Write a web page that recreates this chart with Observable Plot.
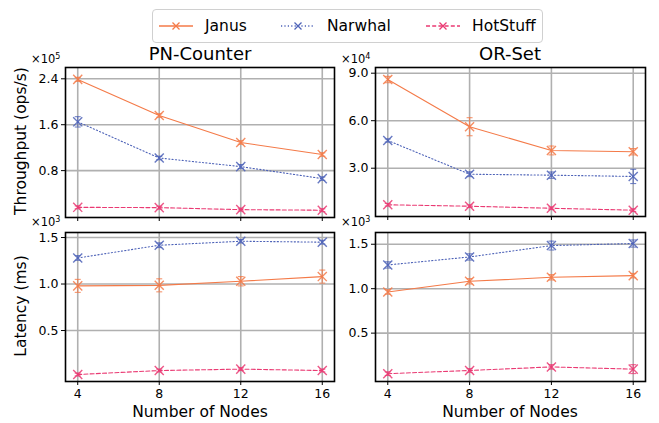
<!DOCTYPE html>
<html>
<head>
<meta charset="utf-8">
<script src="https://cdn.jsdelivr.net/npm/d3@7"></script>
<script src="https://cdn.jsdelivr.net/npm/@observablehq/plot@0.6"></script>
<style>
  html, body { margin: 0; padding: 0; background: #fff; }
  #root { position: relative; width: 659px; height: 423px; font-family: "DejaVu Sans", sans-serif; color: #000; overflow: hidden; }
  .abs { position: absolute; }
  .title { font-size: 18px; transform: translate(-50%, -50%); white-space: nowrap; line-height: 1; }
  .ylab { font-size: 15.5px; white-space: nowrap; transform: translate(-50%, -50%) rotate(-90deg); line-height: 1; }
  .xlab { font-size: 15.5px; white-space: nowrap; transform: translate(-50%, -50%); line-height: 1; }
  .mult { font-size: 11.5px; white-space: nowrap; transform: translate(0, -50%); line-height: 10px; }
  .mult sup { font-size: 8px; vertical-align: 4px; line-height: 0; }
  #legend { left: 152px; top: 9px; width: 391px; height: 34px; border: 1px solid #d0d0d0; border-radius: 4px; box-sizing: border-box; display: flex; align-items: center; font-size: 15.5px; }
  .item { display: flex; align-items: center; position: absolute; top: 0; height: 32px; }
  .item svg { margin-right: 12px; }
</style>
</head>
<body>
<div id="root"></div>
<script>
// ---------- data ----------
const nodes = [4, 8, 12, 16];
const seriesNames = ["Janus", "Narwhal", "HotStuff"];
const seriesColors = ["#f47a48", "#4e63b8", "#ea3a73"];
const seriesDash = [null, "1.2,2.2", "4,2.2"];

// Throughput (ops/s), PN-Counter
const pnTputJanus = [239000, 176000, 129000, 108000];
const pnTputNarwhal = [165000, 102000, 87000, 66000];
const pnTputHotStuff = [16000, 15500, 12000, 11000];
const pnTputJanusErr = [3500, 3000, 3000, 3000];
const pnTputNarwhalErr = [9000, 3000, 3500, 3000];
const pnTputHotStuffErr = [2500, 2500, 2500, 2500];

// Throughput (ops/s), OR-Set
const orTputJanus = [86000, 56200, 41200, 40400];
const orTputNarwhal = [47500, 26200, 25600, 24800];
const orTputHotStuff = [6900, 6000, 4700, 3500];
const orTputJanusErr = [2000, 5700, 2800, 2000];
const orTputNarwhalErr = [1000, 1500, 2000, 4500];
const orTputHotStuffErr = [800, 800, 800, 800];

// Latency (ms), PN-Counter
const pnLatJanus = [980, 986, 1030, 1080];
const pnLatNarwhal = [1280, 1417, 1460, 1450];
const pnLatHotStuff = [27, 70, 85, 70];
const pnLatJanusErr = [70, 70, 50, 70];
const pnLatNarwhalErr = [25, 25, 18, 20];
const pnLatHotStuffErr = [15, 15, 15, 15];

// Latency (ms), OR-Set
const orLatJanus = [963, 1083, 1128, 1147];
const orLatNarwhal = [1267, 1357, 1485, 1508];
const orLatHotStuff = [44, 80, 120, 95];
const orLatJanusErr = [25, 30, 30, 25];
const orLatNarwhalErr = [35, 35, 50, 40];
const orLatHotStuffErr = [20, 20, 25, 50];

// tick labels
const xTicks = [4, 8, 12, 16];
const pnTputTicks = [80000, 160000, 240000];
const orTputTicks = [30000, 60000, 90000];
const latTicks = [500, 1000, 1500];

// ---------- helpers ----------
const capSymbol = {
  draw(context, size) {
    const w = Math.sqrt(size / Math.PI);
    context.moveTo(-w, 0);
    context.lineTo(w, 0);
  }
};

function rowsFor(vals, errs) {
  return seriesNames.map((name, i) =>
    nodes.map((n, j) => ({series: name, x: n, y: vals[i][j], e: errs[i][j]}))
  );
}

function makePanel({vals, errs, yDomain, yTicks, scale, digits, showX, width, height, margins}) {
  const groups = rowsFor(vals, errs);
  const marks = [
    Plot.gridX(xTicks, {stroke: "#b0b0b0", strokeOpacity: 1, strokeWidth: 1.6}),
    Plot.gridY(yTicks, {stroke: "#b0b0b0", strokeOpacity: 1, strokeWidth: 1.6})
  ];
  groups.forEach((rows, i) => {
    const c = seriesColors[i];
    marks.push(Plot.line(rows, {x: "x", y: "y", stroke: c, strokeWidth: 1.1, strokeDasharray: seriesDash[i]}));
    marks.push(Plot.ruleX(rows, {x: "x", y1: d => d.y - d.e, y2: d => d.y + d.e, stroke: c, strokeWidth: 1.1, strokeOpacity: 0.8}));
    marks.push(Plot.dot(rows, {x: "x", y: d => d.y - d.e, symbol: capSymbol, r: 3, stroke: c, fill: "none", strokeWidth: 1.1, strokeOpacity: 0.8}));
    marks.push(Plot.dot(rows, {x: "x", y: d => d.y + d.e, symbol: capSymbol, r: 3, stroke: c, fill: "none", strokeWidth: 1.1, strokeOpacity: 0.8}));
    marks.push(Plot.dot(rows, {x: "x", y: "y", symbol: "times", r: 4.2, stroke: c, fill: "none", strokeWidth: 1.4, strokeOpacity: 0.85}));
  });
  marks.push(Plot.frame({stroke: "#000", strokeWidth: 1.6}));
  marks.push(Plot.axisY(yTicks, {anchor: "left", tickSize: 4, tickPadding: 3, label: null, tickFormat: d => (d / scale).toFixed(digits)}));
  marks.push(Plot.axisX(xTicks, {anchor: "bottom", tickSize: 4, tickPadding: 4, label: null, tickFormat: showX ? (d => String(d)) : (() => "")}));
  return Plot.plot({
    width, height,
    marginLeft: margins[0], marginRight: margins[1], marginTop: margins[2], marginBottom: margins[3],
    x: {domain: [3.4, 16.6]},
    y: {domain: yDomain},
    style: {fontFamily: "DejaVu Sans, sans-serif", fontSize: "12.5px", color: "#000", background: "transparent", overflow: "visible"},
    marks
  });
}

// ---------- layout ----------
const root = document.getElementById("root");
function place(el, left, top) {
  const d = document.createElement("div");
  d.className = "abs";
  d.style.left = left + "px";
  d.style.top = top + "px";
  d.appendChild(el);
  root.appendChild(d);
}
function text(html, cls, left, top) {
  const d = document.createElement("div");
  d.className = "abs " + cls;
  d.style.left = left + "px";
  d.style.top = top + "px";
  d.innerHTML = html;
  root.appendChild(d);
}

place(makePanel({
  vals: [pnTputJanus, pnTputNarwhal, pnTputHotStuff],
  errs: [pnTputJanusErr, pnTputNarwhalErr, pnTputHotStuffErr],
  yDomain: [-1700, 259700], yTicks: pnTputTicks, scale: 1e5, digits: 1, showX: false,
  width: 340, height: 165, margins: [65, 6, 7, 8]
}), 0, 60);

place(makePanel({
  vals: [orTputJanus, orTputNarwhal, orTputHotStuff],
  errs: [orTputJanusErr, orTputNarwhalErr, orTputHotStuffErr],
  yDomain: [-500, 93600], yTicks: orTputTicks, scale: 1e4, digits: 1, showX: false,
  width: 329, height: 165, margins: [45, 14, 7, 9]
}), 330, 60);

place(makePanel({
  vals: [pnLatJanus, pnLatNarwhal, pnLatHotStuff],
  errs: [pnLatJanusErr, pnLatNarwhalErr, pnLatHotStuffErr],
  yDomain: [-48, 1554], yTicks: latTicks, scale: 1e3, digits: 1, showX: true,
  width: 340, height: 184, margins: [65, 6, 7, 28]
}), 0, 225);

place(makePanel({
  vals: [orLatJanus, orLatNarwhal, orLatHotStuff],
  errs: [orLatJanusErr, orLatNarwhalErr, orLatHotStuffErr],
  yDomain: [-44, 1632], yTicks: latTicks, scale: 1e3, digits: 1, showX: true,
  width: 329, height: 184, margins: [45, 14, 7, 28]
}), 330, 225);

// titles and labels
text("PN-Counter", "title", 200, 54);
text("OR-Set", "title", 510, 54);
text("Throughput (ops/s)", "ylab", 22, 141);
text("Latency (ms)", "ylab", 22, 306);
text("Number of Nodes", "xlab", 200, 413);
text("Number of Nodes", "xlab", 510, 413);
text("×10<sup>5</sup>", "mult", 31, 59);
text("×10<sup>4</sup>", "mult", 341, 59);
text("×10<sup>3</sup>", "mult", 31, 222);
text("×10<sup>3</sup>", "mult", 341, 222);

// legend
const legend = document.createElement("div");
legend.id = "legend";
legend.className = "abs";
root.appendChild(legend);
const legendX = [6, 128, 273];
seriesNames.forEach((name, i) => {
  const item = document.createElement("div");
  item.className = "item";
  item.style.left = legendX[i] + "px";
  const c = seriesColors[i];
  const dash = seriesDash[i] ? `stroke-dasharray="${seriesDash[i]}"` : "";
  item.innerHTML = `<svg width="34" height="12"><line x1="0" y1="6" x2="34" y2="6" stroke="${c}" stroke-width="1.3" ${dash}/><path d="M13.5,2.5L20.5,9.5M20.5,2.5L13.5,9.5" stroke="${c}" stroke-width="1.3" fill="none"/></svg><span>${name}</span>`;
  legend.appendChild(item);
});
</script>
</body>
</html>
